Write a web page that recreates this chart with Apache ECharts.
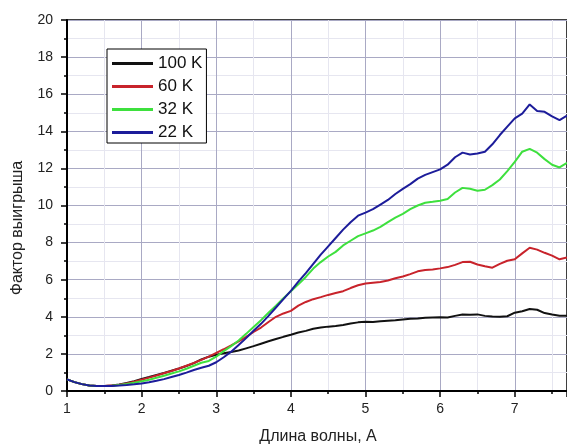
<!DOCTYPE html>
<html><head><meta charset="utf-8">
<script src="https://cdn.jsdelivr.net/npm/echarts@6/dist/echarts.min.js"></script>
<style>html,body{margin:0;padding:0;background:#fff}#c{width:567px;height:448px}</style>
</head><body><div id="c"></div>
<script>
const xs = [1.0,1.1,1.2,1.3,1.4,1.5,1.6,1.7,1.8,1.9,
            2.0,2.1,2.2,2.3,2.4,2.5,2.6,2.7,2.8,2.9,
            3.0,3.1,3.2,3.3,3.4,3.5,3.6,3.7,3.8,3.9,
            4.0,4.1,4.2,4.3,4.4,4.5,4.6,4.7,4.8,4.9,
            5.0,5.1,5.2,5.3,5.4,5.5,5.6,5.7,5.8,5.9,
            6.0,6.1,6.2,6.3,6.4,6.5,6.6,6.7,6.8,6.9,
            7.0,7.1,7.2,7.3,7.4,7.5,7.6,7.7];
const k100 = [0.63,0.48,0.37,0.30,0.27,0.27,0.30,0.35,0.43,0.53,
              0.65,0.75,0.86,0.97,1.09,1.21,1.35,1.50,1.70,1.85,
              1.95,2.03,2.10,2.18,2.30,2.42,2.55,2.68,2.80,2.92,
              3.03,3.15,3.24,3.36,3.42,3.47,3.51,3.56,3.64,3.70,
              3.73,3.72,3.76,3.79,3.82,3.86,3.89,3.91,3.95,3.96,
              3.97,3.96,4.05,4.12,4.11,4.13,4.05,4.01,4.00,4.03,
              4.22,4.30,4.42,4.38,4.20,4.12,4.06,4.05];
const k60 = [0.63,0.48,0.37,0.30,0.27,0.27,0.29,0.34,0.41,0.50,
             0.61,0.72,0.84,0.96,1.08,1.21,1.36,1.51,1.68,1.85,
             2.05,2.25,2.46,2.68,2.92,3.18,3.42,3.72,4.00,4.18,
             4.32,4.60,4.80,4.95,5.06,5.18,5.28,5.38,5.55,5.70,
             5.80,5.84,5.88,5.96,6.08,6.17,6.30,6.45,6.52,6.55,
             6.61,6.68,6.80,6.95,6.97,6.82,6.72,6.65,6.85,7.02,
             7.10,7.42,7.72,7.62,7.45,7.30,7.10,7.20];
const k32 = [0.63,0.48,0.37,0.30,0.27,0.27,0.28,0.32,0.38,0.45,
             0.52,0.61,0.71,0.82,0.94,1.06,1.20,1.36,1.52,1.62,
             1.85,2.15,2.42,2.72,3.08,3.45,3.82,4.22,4.60,5.00,
             5.38,5.75,6.15,6.60,6.95,7.25,7.50,7.85,8.10,8.35,
             8.50,8.65,8.85,9.10,9.35,9.55,9.80,10.00,10.15,10.20,
             10.26,10.35,10.70,10.95,10.90,10.80,10.85,11.10,11.40,11.85,
             12.35,12.90,13.05,12.85,12.50,12.20,12.05,12.30];
const k22 = [0.63,0.48,0.37,0.30,0.27,0.27,0.27,0.29,0.32,0.36,
             0.41,0.47,0.55,0.64,0.75,0.86,0.99,1.13,1.25,1.36,
             1.55,1.82,2.12,2.48,2.85,3.25,3.62,4.05,4.50,4.95,
             5.40,5.90,6.35,6.85,7.35,7.80,8.25,8.70,9.10,9.45,
             9.62,9.80,10.05,10.30,10.62,10.90,11.15,11.45,11.65,11.80,
             11.95,12.20,12.60,12.85,12.75,12.80,12.90,13.30,13.80,14.25,
             14.70,14.95,15.45,15.10,15.05,14.80,14.60,14.85];
const seriesNames = ['100 K','60 K','32 K','22 K'];
const seriesColors = ['#111111','#c8232b','#3ee03e','#1c1c9a'];
const xTitle = 'Длина волны, А';
const yTitle = 'Фактор выигрыша';

const FONT = '"Liberation Sans", Arial, sans-serif';
const pairs = ys => xs.map((x,i)=>[x, ys[i]]);
const allY = [k100,k60,k32,k22];

const chart = echarts.init(document.getElementById('c'), null, {renderer:'canvas'});
chart.setOption({
  animation:false,
  backgroundColor:'#fff',
  grid:{left:67,right:-2,top:20,bottom:57,show:true,borderColor:'#000',borderWidth:1.5,backgroundColor:'transparent'},
  xAxis:{type:'value',min:1,max:7.7,interval:1,
    axisLine:{show:true,onZero:false,lineStyle:{color:'#000',width:2}},
    axisTick:{show:true,inside:false,length:6,lineStyle:{color:'#000',width:1.5}},
    minorTick:{show:true,splitNumber:2,length:3,lineStyle:{color:'#000',width:1.5}},
    splitLine:{show:true,lineStyle:{color:'#a9a9c4',width:1}},
    minorSplitLine:{show:true,lineStyle:{color:'#e6e6f0',width:1}},
    axisLabel:{margin:11,fontSize:14,color:'#222',fontFamily:FONT,showMaxLabel:false,
      formatter:v=>Number.isInteger(v)?String(v):''}
  },
  yAxis:{type:'value',min:0,max:20,interval:2,
    axisLine:{show:true,onZero:false,lineStyle:{color:'#000',width:2}},
    axisTick:{show:true,inside:false,length:6,lineStyle:{color:'#000',width:1.5}},
    minorTick:{show:true,splitNumber:2,length:3,lineStyle:{color:'#000',width:1.5}},
    splitLine:{show:true,lineStyle:{color:'#a9a9c4',width:1}},
    minorSplitLine:{show:true,lineStyle:{color:'#e6e6f0',width:1}},
    axisLabel:{margin:14,fontSize:14,color:'#222',fontFamily:FONT}
  },
  legend:{left:107,top:49,orient:'vertical',icon:'rect',itemWidth:41,itemHeight:3,itemGap:6,
    padding:[6,4,2,5],borderColor:'#000',borderWidth:1,backgroundColor:'#fff',
    textStyle:{fontSize:17,fontFamily:FONT,color:'#111',lineHeight:17},
    data:seriesNames},
  graphic:[
    {type:'text',x:18,y:228,rotation:Math.PI/2,style:{text:yTitle,font:'16px '+FONT,fill:'#222',align:'center',verticalAlign:'middle'}},
    {type:'text',x:318,y:437,style:{text:xTitle,font:'16px '+FONT,fill:'#222',align:'center',verticalAlign:'middle'}}
  ],
  series: seriesNames.map((n,i)=>({
    name:n,type:'line',data:pairs(allY[i]),showSymbol:false,symbol:'none',
    lineStyle:{color:seriesColors[i],width:2},itemStyle:{color:seriesColors[i]},clip:true
  }))
});
</script></body></html>
